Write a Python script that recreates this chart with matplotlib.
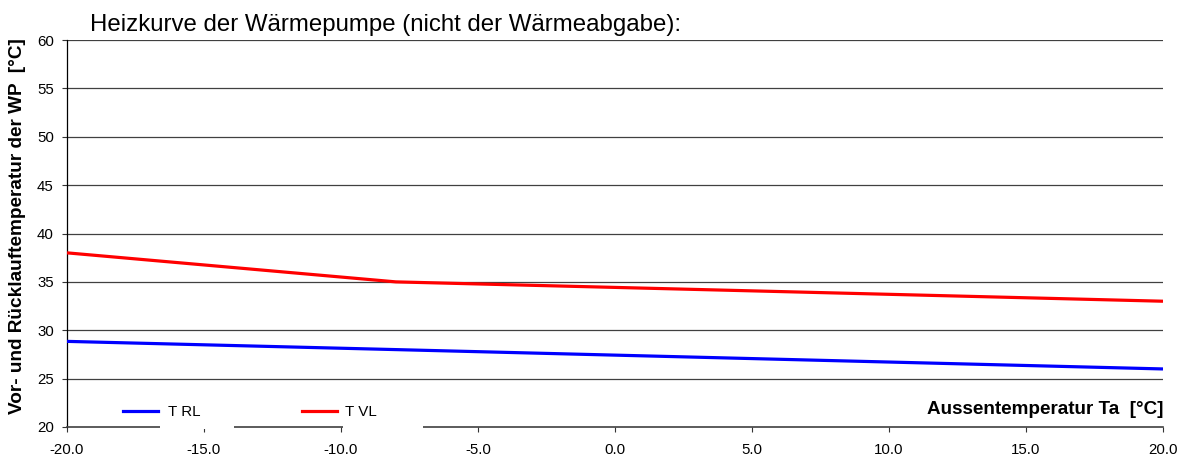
import matplotlib
matplotlib.use("Agg")
import matplotlib.pyplot as plt
from matplotlib.patches import Rectangle
from matplotlib.lines import Line2D

plt.rcParams['font.family'] = ['Liberation Sans', 'DejaVu Sans']

# Data
ta = [-20, -8, 20]
t_rl = [28.85, 28.0, 26.0]
t_vl = [38.0, 35.0, 33.0]
x_ticks = [-20, -15, -10, -5, 0, 5, 10, 15, 20]
y_ticks = [20, 25, 30, 35, 40, 45, 50, 55, 60]
title = "Heizkurve der Wärmepumpe (nicht der Wärmeabgabe):"
ylabel = "Vor- und Rücklauftemperatur der WP  [°C]"
xlabel = "Aussentemperatur Ta  [°C]"

W, H = 1188, 458
fig = plt.figure(figsize=(W / 100, H / 100), dpi=100)
ax = fig.add_axes([67 / W, 1 - 427 / H, (1163 - 67) / W, (427 - 40) / H])

ax.plot(ta, t_rl, color='#0000ff', lw=2.3, label='T RL', solid_capstyle='butt', zorder=4)
ax.plot(ta, t_vl, color='#ff0000', lw=2.3, label='T VL', solid_capstyle='butt', zorder=4)

ax.set_xlim(-20, 20)
ax.set_ylim(20, 60)
ax.set_xticks(x_ticks)
ax.set_xticklabels([f"{v:.1f}" for v in x_ticks], fontsize=10.8)
ax.set_yticks(y_ticks)
ax.set_yticklabels([str(v) for v in y_ticks], fontsize=10.8)
ax.tick_params(axis='both', direction='out', length=3.5, width=0.8, color='#333333')
ax.tick_params(axis='x', pad=8)
ax.tick_params(axis='y', pad=6)

for y in y_ticks[1:]:
    ax.axhline(y, color='#404040', lw=0.9, zorder=1)

ax.spines['top'].set_visible(False)
ax.spines['right'].set_visible(False)
ax.spines['left'].set_color('#000000')
ax.spines['left'].set_linewidth(0.9)
ax.spines['bottom'].set_color('#404040')
ax.spines['bottom'].set_linewidth(1.2)

fig.text(90 / W, 1 - 25 / H, title, fontsize=17.3, ha='left', va='center')
fig.text(18 / W, 1 - 226 / H, ylabel, fontsize=13.7, fontweight='bold',
         rotation=90, ha='center', va='center')
ax.text(1.0, 17 / 387, xlabel, transform=ax.transAxes, fontsize=13.6,
        fontweight='bold', ha='right', va='center', zorder=6)

# white label boxes covering the axis line (as in reference)
for x0, x1 in [(160, 234), (343, 423)]:
    r = Rectangle((x0 / W, 1 - 429 / H), (x1 - x0) / W, 30 / H,
                  transform=fig.transFigure, facecolor='white', edgecolor='none',
                  zorder=3, clip_on=False)
    fig.add_artist(r)

# legend entries
for (hx0, hx1, tx, col, lab) in [(123, 158, 168, 'blue', 'T RL'), (302, 337, 345, 'red', 'T VL')]:
    fig.add_artist(Line2D([hx0 / W, hx1 / W], [1 - 411 / H] * 2, transform=fig.transFigure,
                          color=col, lw=2.3, zorder=5))
    fig.text(tx / W, 1 - 412 / H, lab, fontsize=10.9, ha='left', va='center', zorder=6)

fig.savefig("out.png", dpi=100)
